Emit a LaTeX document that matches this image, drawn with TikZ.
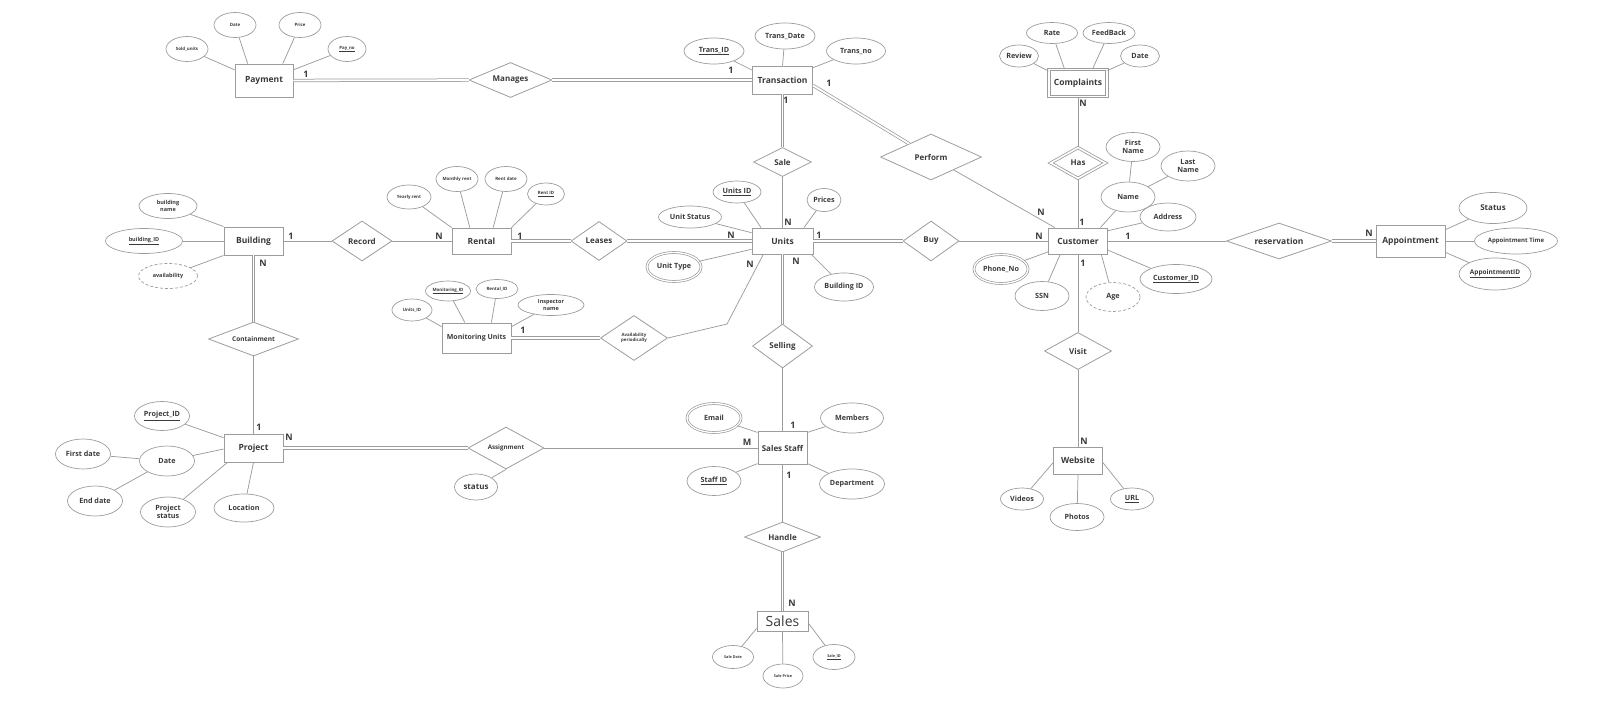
\documentclass[tikz,border=0pt]{standalone}
\usepackage{fontspec}
\setmainfont{Open Sans}
\usetikzlibrary{shapes.geometric, calc}
\definecolor{linegray}{HTML}{9C9C9C}
\definecolor{textgray}{HTML}{3A3A3A}

\begin{document}
\begin{tikzpicture}[x=1pt, y=-1pt,
        entity/.style={rectangle, draw=linegray, line width=0.9pt, inner sep=0pt, text=textgray, font=\fontsize{8.5}{10}\selectfont\bfseries},
        weak/.style={entity, double, double distance=1.6pt},
        rel/.style={diamond, aspect=2.5, draw=linegray, line width=0.8pt, inner sep=0pt, text=textgray, align=center, font=\fontsize{8}{9}\selectfont\bfseries},
        attr/.style={ellipse, draw=linegray, line width=0.7pt, inner sep=0pt, text=textgray, align=center, font=\fontsize{7.2}{8.4}\selectfont\bfseries},
        attrsmall/.style={font=\fontsize{5.5}{6.5}\selectfont\bfseries},
        attrtiny/.style={font=\fontsize{4.4}{5.4}\selectfont\bfseries},
        multival/.style={double, double distance=1.3pt},
        derived/.style={densely dashed},
        link/.style={draw=linegray, line width=0.75pt},
        total/.style={draw=linegray, line width=0.75pt, double=white, double distance=1.8pt},
        card/.style={text=textgray, inner sep=0pt, font=\fontsize{9}{10}\selectfont\bfseries}
    ]
    \useasboundingbox (0,0) rectangle (1600,707);

    % Entities
    \node[entity, minimum width=58, minimum height=33] (Pay) at (264,80.5) {Payment};
    \node[entity, minimum width=60, minimum height=28] (Trans) at (782.5,80) {Transaction};
    \node[weak, minimum width=58, minimum height=27] (Compl) at (1078,83) {Complaints};
    \node[entity, minimum width=59, minimum height=28] (Build) at (253.5,241) {Building};
    \node[entity, minimum width=59, minimum height=26] (Rent) at (481.5,241) {Rental};
    \node[entity, minimum width=61, minimum height=26] (Units) at (782.5,241) {Units};
    \node[entity, minimum width=59, minimum height=26] (Cust) at (1078,241) {Customer};
    \node[entity, minimum width=69, minimum height=32] (Appt) at (1410.5,241) {Appointment};
    \node[entity, minimum width=69, minimum height=30, font=\fontsize{7}{8}\selectfont\bfseries] (Monit) at (476.5,338) {Monitoring Units};
    \node[entity, minimum width=59, minimum height=28] (Proj) at (253.5,448) {Project};
    \node[entity, minimum width=49, minimum height=33, font=\fontsize{8}{9}\selectfont\bfseries] (Staff) at (782.5,448) {Sales Staff};
    \node[entity, minimum width=49, minimum height=27] (Web) at (1078,460.5) {Website};
    \node[entity, minimum width=51, minimum height=20, font=\fontsize{14}{15}\selectfont] (Sales) at (782.5,621) {Sales};

    % Relationships
    \node[rel, minimum width=83, minimum height=35] (Manage) at (510.5,80) {Manages};
    \node[rel, minimum width=58, minimum height=29] (Sale) at (782.5,162) {Sale};
    \node[rel, minimum width=101, minimum height=46] (Perf) at (931,157) {Perform};
    \node[rel, double, double distance=1.6pt, minimum width=55, minimum height=31] (Has) at (1078,163) {Has};
    \node[rel, minimum width=60, minimum height=40] (Record) at (362,241) {Record};
    \node[rel, minimum width=56, minimum height=39] (Lease) at (599,241) {Leases};
    \node[rel, minimum width=56, minimum height=40] (Buy) at (931,241) {Buy};
    \node[rel, minimum width=105, minimum height=36, font=\fontsize{8.5}{10}\selectfont\bfseries] (Reserv) at (1279,241) {reservation};
    \node[rel, minimum width=90, minimum height=34, font=\fontsize{6.5}{8}\selectfont\bfseries] (Contain) at (253.5,339) {Containment};
    \node[rel, minimum width=67, minimum height=45, font=\fontsize{4.4}{5.4}\selectfont\bfseries] (Avail) at (634,338) {Availability\\periodically};
    \node[rel, minimum width=60, minimum height=44] (Sell) at (782.5,346) {Selling};
    \node[rel, minimum width=67, minimum height=37] (Visit) at (1078,351) {Visit};
    \node[rel, minimum width=76, minimum height=42, font=\fontsize{6.2}{7}\selectfont\bfseries] (Assign) at (506,448) {Assignment};
    \node[rel, minimum width=76, minimum height=30] (Handle) at (782.5,537) {Handle};

    % Payment attributes
    \node[attr, attrtiny, minimum width=42, minimum height=25] (pSold) at (187,49) {Sold\_units};
    \node[attr, attrtiny, minimum width=42, minimum height=25] (pDate) at (235,25) {Date};
    \node[attr, attrtiny, minimum width=42, minimum height=25] (pPrice) at (300,25) {Price};
    \node[attr, attrtiny, minimum width=38, minimum height=25] (pNo) at (347,49) {\underline{Pay\_no}};

    % Transaction attributes
    \node[attr, minimum width=60, minimum height=26] (tID) at (714,51) {\underline{Trans\_ID}};
    \node[attr, minimum width=60, minimum height=26] (tDate) at (785,36) {Trans\_Date};
    \node[attr, minimum width=59, minimum height=26] (tNo) at (856,51) {Trans\_no};

    % Complaints attributes
    \node[attr, minimum width=39, minimum height=22] (cRev) at (1019,56) {Review};
    \node[attr, minimum width=51, minimum height=21] (cRate) at (1052,33) {Rate};
    \node[attr, minimum width=52, minimum height=21] (cFeed) at (1109,33) {FeedBack};
    \node[attr, minimum width=39, minimum height=22] (cDate) at (1140,56) {Date};

    % Building attributes
    \node[attr, attrsmall, minimum width=58, minimum height=25] (bName) at (168,206) {building\\name};
    \node[attr, attrsmall, minimum width=77, minimum height=25] (bID) at (144,241) {\underline{building\_ID}};
    \node[attr, attrsmall, derived, minimum width=59, minimum height=25] (bAvail) at (168,276) {availability};

    % Rental attributes
    \node[attr, attrtiny, minimum width=44, minimum height=24] (rYear) at (409,197) {Yearly rent};
    \node[attr, attrtiny, minimum width=42, minimum height=25] (rMonth) at (457,179) {Monthly rent};
    \node[attr, attrtiny, minimum width=42, minimum height=25] (rDate) at (506,179) {Rent date};
    \node[attr, attrtiny, minimum width=37, minimum height=22] (rID) at (546,194) {\underline{Rent ID}};

    % Units attributes
    \node[attr, minimum width=48, minimum height=22] (uID) at (737,192) {\underline{Units ID}};
    \node[attr, minimum width=63, minimum height=22] (uStat) at (690,217) {Unit Status};
    \node[attr, minimum width=34, minimum height=23] (uPrice) at (824,200) {Prices};
    \node[attr, multival, minimum width=54, minimum height=29] (uType) at (674,267) {Unit Type};
    \node[attr, minimum width=59, minimum height=28] (uBuild) at (844,287) {Building ID};

    % Customer attributes
    \node[attr, minimum width=54, minimum height=29] (fName) at (1133,147) {First\\Name};
    \node[attr, minimum width=54, minimum height=30] (lName) at (1188,166) {Last\\Name};
    \node[attr, minimum width=54, minimum height=30] (cName) at (1128,197) {Name};
    \node[attr, minimum width=56, minimum height=28] (cAddr) at (1168,217) {Address};
    \node[attr, multival, minimum width=54, minimum height=29] (cPhone) at (1001,269) {Phone\_No};
    \node[attr, minimum width=54, minimum height=29] (cSSN) at (1042,296) {SSN};
    \node[attr, derived, minimum width=54, minimum height=29] (cAge) at (1113,297) {Age};
    \node[attr, minimum width=72, minimum height=29] (cID) at (1176,279) {\underline{Customer\_ID}};

    % Appointment attributes
    \node[attr, minimum width=68, minimum height=31, font=\fontsize{8}{9}\selectfont\bfseries] (aStat) at (1493,208) {Status};
    \node[attr, minimum width=83, minimum height=26, font=\fontsize{6}{7}\selectfont\bfseries] (aTime) at (1516,241) {Appointment Time};
    \node[attr, minimum width=72, minimum height=32, font=\fontsize{6.5}{7.5}\selectfont\bfseries] (aID) at (1495,274) {\underline{AppointmentID}};

    % Monitoring Units attributes
    \node[attr, attrtiny, minimum width=40, minimum height=22] (mUnit) at (412,310) {Units\_ID};
    \node[attr, attrtiny, minimum width=45, minimum height=20] (mID) at (448,291) {\underline{Monitoring\_ID}};
    \node[attr, attrtiny, minimum width=42, minimum height=19] (mRent) at (497,289) {Rental\_ID};
    \node[attr, attrsmall, minimum width=66, minimum height=21] (mInsp) at (551,305) {Inspector\\name};

    % Project attributes
    \node[attr, minimum width=55, minimum height=29] (jID) at (162,416) {\underline{Project\_ID}};
    \node[attr, minimum width=55, minimum height=30] (jFirst) at (83,454) {First date};
    \node[attr, minimum width=55, minimum height=30] (jDate) at (167,461) {Date};
    \node[attr, minimum width=55, minimum height=30] (jEnd) at (95,501) {End date};
    \node[attr, minimum width=55, minimum height=30] (jStat) at (168,512) {Project\\status};
    \node[attr, minimum width=60, minimum height=28] (jLoc) at (244,508) {Location};
    \node[attr, minimum width=43, minimum height=26, font=\fontsize{8}{9}\selectfont\bfseries] (sStatus) at (476,487) {status};

    % Sales Staff attributes
    \node[attr, multival, minimum width=54, minimum height=29] (sEmail) at (714,418) {Email};
    \node[attr, minimum width=63, minimum height=30] (sMem) at (852,418) {Members};
    \node[attr, minimum width=54, minimum height=29] (sID) at (714,481) {\underline{Staff ID}};
    \node[attr, minimum width=65, minimum height=30] (sDept) at (852,484) {Department};

    % Website attributes
    \node[attr, minimum width=43, minimum height=22] (wVid) at (1022,499) {Videos};
    \node[attr, minimum width=54, minimum height=27] (wPho) at (1077,517) {Photos};
    \node[attr, minimum width=43, minimum height=22] (wURL) at (1132,499) {\underline{URL}};

    % Sales attributes
    \node[attr, minimum width=41, minimum height=23, font=\fontsize{3.8}{4.5}\selectfont\bfseries] (eDate) at (733,657) {Sale Date};
    \node[attr, minimum width=40, minimum height=24, font=\fontsize{3.8}{4.5}\selectfont\bfseries] (ePrice) at (783,676) {Sale Price};
    \node[attr, minimum width=42, minimum height=25, font=\fontsize{3.8}{4.5}\selectfont\bfseries] (eID) at (834,657) {\underline{Sale\_ID}};

    % Relationship connections
    \draw[total] (Pay) -- (Manage);
    \draw[total] (Manage) -- (Trans);
    \draw[total] (Trans) -- (Sale);
    \draw[link] (Sale) -- (Units);
    \draw[total] (Trans.-10) -- (Perf);
    \draw[link] (Perf) -- (Cust.150);
    \draw[link] (Compl) -- (Has);
    \draw[link] (Has) -- (Cust);
    \draw[link] (Build) -- (Record);
    \draw[link] (Record) -- (Rent);
    \draw[total] (Rent) -- (Lease);
    \draw[total] (Lease) -- (Units);
    \draw[total] (Units) -- (Buy);
    \draw[link] (Buy) -- (Cust);
    \draw[link] (Cust) -- (Reserv);
    \draw[total] (Reserv) -- (Appt);
    \draw[total] (Build) -- (Contain);
    \draw[link] (Contain) -- (Proj);
    \draw[total] (Monit) -- (Avail);
    \coordinate (availBend) at (727,324);
    \draw[link] (Avail.east) -- (availBend) -- (Units.-145);
    \draw[total] (Units) -- (Sell);
    \draw[link] (Sell) -- (Staff);
    \draw[total] (Proj) -- (Assign);
    \draw[link] (Assign) -- (Staff);
    \draw[link] (Assign.south) -- (sStatus);
    \draw[link] (Staff) -- (Handle);
    \draw[total] (Handle) -- (Sales);
    \draw[link] (Cust) -- (Visit);
    \draw[link] (Visit) -- (Web);

    % Attribute connections
    \foreach \a/\b in {pSold/Pay.160, pDate/Pay.134, pPrice/Pay.42, pNo/Pay.20,
                       tID/Trans.162, tDate/Trans.north, tNo/Trans.22,
                       cRev/Compl.158, cRate/Compl.134, cFeed/Compl.44, cDate/Compl.23,
                       bName/Build.north west, bID/Build.west, bAvail/Build.south west,
                       rYear/Rent.north west, rMonth/Rent.131, rDate/Rent.49, rID/Rent.north east,
                       uID/Units.148, uStat/Units.165, uPrice/Units.32, uType/Units.195, uBuild/Units.-25,
                       cName/Cust.31, cAddr/Cust.19, cPhone/Cust.200, cSSN/Cust.217, cAge/Cust.-30, cID/Cust.-17,
                       fName/cName, lName/cName,
                       aStat/Appt.18, aTime/Appt.east, aID/Appt.-18,
                       mUnit/Monit.162, mID/Monit.127, mRent/Monit.46, mInsp/Monit.18,
                       jID/Proj.161, jDate/Proj.182, jStat/Proj.-151, jLoc/Proj.south,
                       jFirst/jDate, jEnd/jDate,
                       sEmail/Staff.148, sMem/Staff.32, sID/Staff.212, sDept/Staff.-32,
                       wVid/Web.185, wPho/Web.south, wURL/Web.-5,
                       eDate/Sales.196, ePrice/Sales.south, eID/Sales.-5} {
        \draw[link] (\a) -- (\b);
    }

    % Cardinalities
    \foreach \x/\y/\t [count=\k] in {306/74/1, 731/70/1, 829/83/1, 786/100/1, 1083/103/N,
                                     1082/222/1, 1041/212/N, 788/222/N, 731/235/N,
                                     439/236/N, 520/236/1, 291/236/1, 263/263/N,
                                     819/235/1, 1039/236/N, 1128/236/1, 1369/233/N,
                                     750/264/N, 796/261/N, 523/330/1, 1083/263/1,
                                     259/427/1, 289/437/N, 793/425/1, 747/442/M,
                                     789/475/1, 1084/441/N, 792/603/N} {
        \node[card] (card\k) at (\x,\y) {\t};
    }

\end{tikzpicture}
\end{document}
